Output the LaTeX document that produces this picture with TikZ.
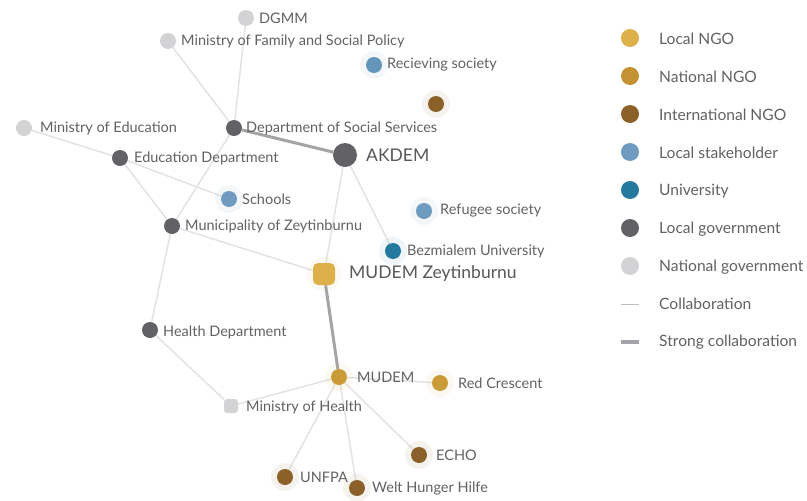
\documentclass[tikz,border=0pt]{standalone}
\usepackage{fontspec}
\setmainfont{Lato}
\usetikzlibrary{backgrounds}
\definecolor{lngo}{HTML}{DDB04A}
\definecolor{nngo}{HTML}{C39232}
\definecolor{ingo}{HTML}{8B6129}
\definecolor{lstk}{HTML}{6E9BBF}
\definecolor{univ}{HTML}{25799E}
\definecolor{lgov}{HTML}{616166}
\definecolor{ngov}{HTML}{D3D3D5}
\definecolor{txt}{HTML}{626262}
\definecolor{edge}{HTML}{E3E3E3}
\definecolor{sedge}{HTML}{A4A4A8}
\tikzset{
  dot/.style={circle, minimum size=16pt, inner sep=0pt, draw=none},
  bigdot/.style={circle, minimum size=24pt, inner sep=0pt, draw=none},
  sq/.style={rectangle, rounded corners=3pt, minimum size=14pt, inner sep=0pt, draw=none},
  bigsq/.style={rectangle, rounded corners=5pt, minimum size=22pt, inner sep=0pt, draw=none},
  halo/.style={circle, minimum size=28pt, inner sep=0pt, fill=#1, fill opacity=0.07, draw=none},
  lbl/.style={anchor=west, inner sep=0pt, text=txt, font=\fontsize{14.5}{16}\selectfont},
  biglbl/.style={anchor=west, inner sep=0pt, text=txt!90!black, font=\fontsize{17.5}{20}\selectfont},
  leglbl/.style={anchor=west, inner sep=0pt, text=txt, font=\fontsize{15.6}{18}\selectfont},
  legdot/.style={circle, minimum size=18pt, inner sep=0pt, fill=#1, draw=none},
  conn/.style={draw=edge, line width=1.5pt},
  strong/.style={draw=sedge, line width=3pt},
}
\begin{document}
\begin{tikzpicture}[x=1pt,y=-1pt]
\useasboundingbox (0,0) rectangle (807,501);
% graph nodes
\node[dot, fill=ngov] (dgmm) at (246,18) {};
\node[lbl] (dgmmt) at (259,18) {DGMM};
\node[dot, fill=ngov] (mfam) at (168,41) {};
\node[lbl] (mfamt) at (181,41) {Ministry of Family and Social Policy};
\node[halo=lstk] at (374,65) {};
\node[dot, fill=lstk!85!univ] (recv) at (374,65) {};
\node[lbl] (recvt) at (387,65) {Recieving society};
\node[halo=ingo] at (436,104) {};
\node[dot, fill=ingo] (ingo1) at (436,104) {};
\node[dot, fill=ngov] (medu) at (24,128) {};
\node[lbl] (medut) at (40,128) {Ministry of Education};
\node[dot, fill=lgov] (dss) at (234,128) {};
\node[lbl] (dsst) at (246,128) {Department of Social Services};
\node[bigdot, fill=lgov] (akdem) at (345,155) {};
\node[biglbl] (akdemt) at (366,155) {AKDEM};
\node[dot, fill=lgov] (edu) at (120,158) {};
\node[lbl] (edut) at (134,158) {Education Department};
\node[halo=lstk] at (229,199) {};
\node[dot, fill=lstk] (sch) at (229,199) {};
\node[lbl] (scht) at (242,199) {Schools};
\node[halo=lstk] at (424,211) {};
\node[dot, fill=lstk] (refu) at (424,211) {};
\node[lbl] (refut) at (440,211) {Refugee society};
\node[dot, fill=lgov] (muni) at (172,226) {};
\node[lbl] (munit) at (185,226) {Municipality of Zeytinburnu};
\node[halo=univ] at (393,251) {};
\node[dot, fill=univ] (bez) at (393,251) {};
\node[lbl] (bezt) at (407,251) {Bezmialem University};
\node[halo=lngo, minimum size=34pt] at (324,274) {};
\node[bigsq, fill=lngo] (mz) at (324,274) {};
\node[biglbl] (mzt) at (349,274) {MUDEM Zeytinburnu};
\node[dot, fill=lgov] (hd) at (150,330) {};
\node[lbl] (hdt) at (163,332) {Health Department};
\node[halo=lngo] at (339,377) {};
\node[dot, fill=nngo!70!lngo] (mud) at (339,377) {};
\node[lbl] (mudt) at (357,377) {MUDEM};
\node[halo=lngo] at (440,383) {};
\node[dot, fill=nngo!70!lngo] (rc) at (440,383) {};
\node[lbl] (rct) at (458,383) {Red Crescent};
\node[sq, fill=ngov] (mh) at (231,406) {};
\node[lbl] (mht) at (246,407) {Ministry of Health};
\node[halo=ingo] at (419,455) {};
\node[dot, fill=ingo] (echo) at (419,455) {};
\node[lbl] (echot) at (436,455) {ECHO};
\node[halo=ingo] at (285,477) {};
\node[dot, fill=ingo] (unfpa) at (285,477) {};
\node[lbl] (unfpat) at (300,477) {UNFPA};
\node[halo=ingo] at (357,488) {};
\node[dot, fill=ingo] (whh) at (357,488) {};
\node[lbl] (whht) at (372,488) {Welt Hunger Hilfe};
% connectors
\begin{pgfonlayer}{background}
\fill[white] (0,0) rectangle (807,501);
\draw[conn] (dgmm) -- (dss);
\draw[conn] (mfam) -- (dss);
\draw[conn] (dss) -- (muni);
\draw[conn] (medu) -- (edu);
\draw[conn] (edu) -- (sch);
\draw[conn] (edu) -- (muni);
\draw[conn] (muni) -- (hd);
\draw[conn] (muni) -- (mz);
\draw[conn] (hd) -- (mh);
\draw[conn] (akdem) -- (mz);
\draw[conn] (akdem) -- (bez);
\draw[conn] (mud) -- (rc);
\draw[conn] (mud) -- (mh);
\draw[conn] (mud) -- (echo);
\draw[conn] (mud) -- (unfpa);
\draw[conn] (mud) -- (whh);
\draw[strong] (dss) -- (akdem);
\draw[strong] (mz) -- (mud);
\end{pgfonlayer}
% legend
\node[legdot=lngo] (l1) at (630,38) {};
\node[leglbl] (l1t) at (659,39) {Local NGO};
\node[legdot=nngo] (l2) at (630,76) {};
\node[leglbl] (l2t) at (659,77) {National NGO};
\node[legdot=ingo] (l3) at (630,114) {};
\node[leglbl] (l3t) at (659,115) {International NGO};
\node[legdot=lstk] (l4) at (630,152) {};
\node[leglbl] (l4t) at (659,153) {Local stakeholder};
\node[legdot=univ] (l5) at (630,190) {};
\node[leglbl] (l5t) at (659,191) {University};
\node[legdot=lgov] (l6) at (630,228) {};
\node[leglbl] (l6t) at (659,229) {Local government};
\node[legdot=ngov] (l7) at (630,266) {};
\node[leglbl] (l7t) at (659,267) {National government};
\coordinate (c1a) at (621,304);
\coordinate (c1b) at (639,304);
\draw[draw=sedge!70, line width=1pt] (c1a) -- (c1b);
\node[leglbl] (l8t) at (659,304) {Collaboration};
\coordinate (c2a) at (621,342);
\coordinate (c2b) at (639,342);
\draw[draw=sedge, line width=4pt] (c2a) -- (c2b);
\node[leglbl] (l9t) at (659,342) {Strong collaboration};
\end{tikzpicture}
\end{document}
